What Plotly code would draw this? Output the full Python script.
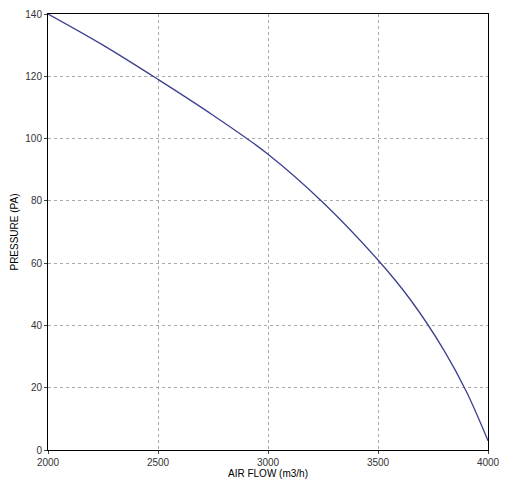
import plotly.graph_objects as go

air_flow = [2000, 2250, 2500, 2750, 3000, 3250, 3500, 3650, 3800, 3900, 4000]
pressure = [140, 130, 119, 107.5, 95, 79.5, 61, 48, 32, 19, 3]

fig = go.Figure(go.Scatter(
    x=air_flow, y=pressure, mode="lines", line=dict(color="#3c3f8f", width=1.3, shape="spline"),
))

axis_common = dict(
    showgrid=True, gridcolor="#aaaaaa", griddash="dot", gridwidth=1,
    showline=True, linecolor="black", linewidth=1, mirror=True,
    ticks="outside", ticklen=3, tickfont=dict(size=10, color="#333", family="Arial"),
    zeroline=False, automargin=False,
)

fig.update_layout(
    width=526, height=480, plot_bgcolor="white", paper_bgcolor="white",
    margin=dict(l=40, r=46, t=6, b=38), showlegend=False,
    font=dict(family="Arial", color="black"),
    xaxis=dict(range=[2000, 4000], dtick=500, title=dict(text="AIR FLOW (m3/h)", font=dict(size=10), standoff=0), **axis_common),
    yaxis=dict(range=[0, 140], dtick=20, title=dict(text="PRESSURE (PA)", font=dict(size=10), standoff=4), **axis_common),
)

fig.write_html("out.html")
